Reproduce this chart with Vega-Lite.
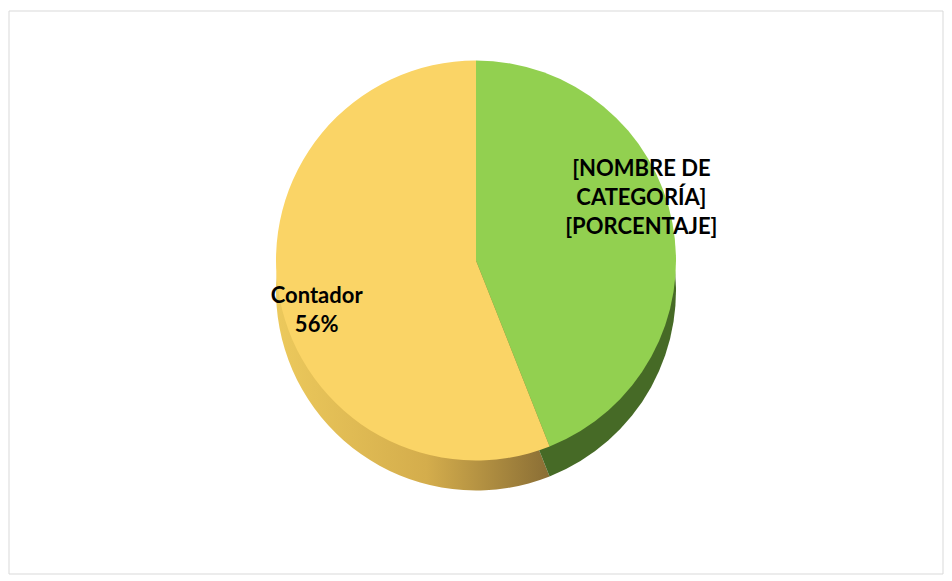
{
  "$schema": "https://vega.github.io/schema/vega-lite/v6.json",
  "width": 952,
  "height": 581,
  "autosize": {"type": "fit", "contains": "padding"},
  "padding": {"left": 8, "top": 10, "right": 8, "bottom": 6},
  "background": "white",
  "config": {"view": {"stroke": null}},
  "data": {
    "values": [
      {"categoria": "[NOMBRE DE CATEGORÍA]", "valor": 44, "orden": 1, "etiqueta": "[NOMBRE DE\nCATEGORÍA]\n[PORCENTAJE]"},
      {"categoria": "Contador", "valor": 56, "orden": 2, "etiqueta": "Contador\n56%"}
    ]
  },
  "encoding": {
    "theta": {"field": "valor", "type": "quantitative", "stack": true},
    "order": {"field": "orden", "type": "quantitative"}
  },
  "layer": [
    {
      "data": {"values": [{}]},
      "mark": {"type": "rect", "fill": null, "stroke": "#d9d9d9", "strokeWidth": 1},
      "encoding": {
        "theta": null, "order": null,
        "x": {"value": 0}, "x2": {"value": "width"},
        "y": {"value": 0}, "y2": {"value": "height"}
      }
    },
    {
      "transform": [{"filter": "datum.orden == 2"}],
      "mark": {
        "type": "arc", "outerRadius": 200, "yOffset": -2,
        "theta": 2.765, "theta2": 6.2832,
        "fill": {"gradient": "linear", "x1": 0, "y1": 0, "x2": 1, "y2": 0,
          "stops": [{"offset": 0, "color": "#ecc95c"}, {"offset": 0.55, "color": "#d4ad4c"}, {"offset": 1, "color": "#8a6e35"}]}
      },
      "encoding": {"theta": null, "order": null}
    },
    {
      "transform": [{"filter": "datum.orden == 1"}],
      "mark": {"type": "arc", "outerRadius": 200, "yOffset": -2, "theta": 0, "theta2": 2.765, "fill": "#466a26"},
      "encoding": {"theta": null, "order": null}
    },
    {
      "mark": {"type": "arc", "outerRadius": 200, "yOffset": -32},
      "encoding": {
        "color": {"field": "categoria", "type": "nominal", "legend": null,
          "scale": {"domain": ["[NOMBRE DE CATEGORÍA]", "Contador"], "range": ["#92d050", "#fad466"]}}
      }
    },
    {
      "transform": [{"filter": "datum.orden == 1"}],
      "mark": {"type": "text", "radius": 150, "font": "Lato", "fontSize": 22, "fontWeight": "bold", "lineBreak": "\n", "lineHeight": 29, "color": "#000000", "yOffset": -95, "xOffset": 18},
      "encoding": {"text": {"field": "etiqueta", "type": "nominal"}, "theta": {"value": 1.383}, "order": null}
    },
    {
      "transform": [{"filter": "datum.orden == 2"}],
      "mark": {"type": "text", "radius": 150, "font": "Lato", "fontSize": 22, "fontWeight": "bold", "lineBreak": "\n", "lineHeight": 29, "color": "#000000", "yOffset": -25, "xOffset": -12},
      "encoding": {"text": {"field": "etiqueta", "type": "nominal"}, "theta": {"value": 4.524}, "order": null}
    }
  ]
}
